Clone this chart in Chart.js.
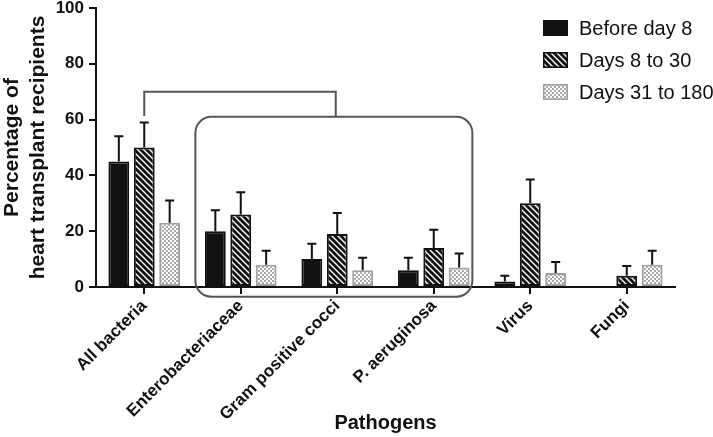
<!DOCTYPE html>
<html><head><meta charset="utf-8">
<script src="https://cdn.jsdelivr.net/npm/chart.js@4/dist/chart.umd.min.js"></script>
<style>html,body{margin:0;padding:0;background:#fff}#wrap{width:713px;height:437px}</style>
</head><body><div id="wrap"><canvas id="c" width="713" height="437"></canvas></div>
<script>
const categories = ['All bacteria','Enterobacteriaceae','Gram positive cocci','P. aeruginosa','Virus','Fungi'];
const seriesLabels = ['Before day 8','Days 8 to 30','Days 31 to 180'];
const beforeDay8 = [45, 20, 10, 6, 2, 0];
const days8to30 = [50, 26, 19, 14, 30, 4];
const days31to180 = [23, 8, 6, 7, 5, 8];
const errBeforeDay8 = [9, 7.5, 5.5, 4.5, 2, 0];
const errDays8to30 = [9, 8, 7.5, 6.5, 8.5, 3.5];
const errDays31to180 = [8, 5, 4.5, 5, 4, 5];
const yTicks = [0, 20, 40, 60, 80, 100];
const xTitle = 'Pathogens';
const yTitle = ['Percentage of', 'heart transplant recipients'];

const FONT = "'Liberation Sans', Arial, Helvetica, sans-serif";

function hatchPattern() {
  const s = 6, c = document.createElement('canvas');
  c.width = c.height = s;
  const g = c.getContext('2d');
  g.fillStyle = '#111'; g.fillRect(0, 0, s, s);
  g.strokeStyle = '#fff'; g.lineWidth = 1.4;
  g.beginPath();
  for (let k = -1; k <= 1; k++) { g.moveTo(k * s - 1, -1); g.lineTo(k * s + s + 1, s + 1); }
  g.stroke();
  return g.createPattern(c, 'repeat');
}
function checkerPattern() {
  const c = document.createElement('canvas');
  c.width = c.height = 4;
  const g = c.getContext('2d');
  g.fillStyle = '#fff'; g.fillRect(0, 0, 4, 4);
  g.fillStyle = '#a9a9a9'; g.fillRect(0, 0, 2, 2); g.fillRect(2, 2, 2, 2);
  return g.createPattern(c, 'repeat');
}

const errors = [errBeforeDay8, errDays8to30, errDays31to180];

const errorBarPlugin = {
  id: 'errorBars',
  afterDatasetsDraw(chart) {
    const ctx = chart.ctx, y = chart.scales.y;
    ctx.save();
    ctx.strokeStyle = '#111'; ctx.lineWidth = 2;
    chart.data.datasets.forEach((ds, i) => {
      const meta = chart.getDatasetMeta(i);
      meta.data.forEach((el, j) => {
        const v = ds.data[j], e = errors[i][j];
        if (!e) return;
        const y0 = y.getPixelForValue(v), y1 = y.getPixelForValue(v + e);
        ctx.beginPath();
        ctx.moveTo(el.x, y0); ctx.lineTo(el.x, y1);
        ctx.moveTo(el.x - 4.5, y1); ctx.lineTo(el.x + 4.5, y1);
        ctx.stroke();
      });
    });
    ctx.restore();
  }
};

const annotationPlugin = {
  id: 'bracket',
  afterDraw(chart) {
    const ctx = chart.ctx, x = chart.scales.x, y = chart.scales.y;
    ctx.save();
    ctx.strokeStyle = '#555'; ctx.lineWidth = 2;
    const bx0 = x.getPixelForValue(0), bx1 = x.getPixelForValue(2) - 1.5;
    const by = y.getPixelForValue(70), bLow = y.getPixelForValue(61.3);
    const rTop = y.getPixelForValue(61), rBot = y.getPixelForValue(-3.5);
    const rL = x.getPixelForValue(0.53), rR = x.getPixelForValue(3.4);
    ctx.beginPath();
    ctx.moveTo(bx0, bLow); ctx.lineTo(bx0, by); ctx.lineTo(bx1, by); ctx.lineTo(bx1, rTop);
    ctx.stroke();
    const r = 16;
    ctx.beginPath();
    ctx.moveTo(rL + r, rTop);
    ctx.lineTo(rR - r, rTop); ctx.arcTo(rR, rTop, rR, rTop + r, r);
    ctx.lineTo(rR, rBot - r); ctx.arcTo(rR, rBot, rR - r, rBot, r);
    ctx.lineTo(rL + r, rBot); ctx.arcTo(rL, rBot, rL, rBot - r, r);
    ctx.lineTo(rL, rTop + r); ctx.arcTo(rL, rTop, rL + r, rTop, r);
    ctx.closePath();
    ctx.stroke();
    chart.data.datasets.forEach((ds, i) => {
      const yc = 28 + 32 * i;
      ctx.fillStyle = ds.backgroundColor;
      ctx.fillRect(543, yc - 8, 25, 16);
      ctx.strokeStyle = ds.borderColor; ctx.lineWidth = 1.5;
      ctx.strokeRect(543.75, yc - 7.25, 23.5, 14.5);
      ctx.fillStyle = '#111';
      ctx.font = '20px ' + FONT;
      ctx.textBaseline = 'middle'; ctx.textAlign = 'left';
      ctx.fillText(ds.label, 579, yc + 1);
    });
    ctx.restore();
  }
};

new Chart(document.getElementById('c'), {
  type: 'bar',
  data: {
    labels: categories,
    datasets: [
      { label: seriesLabels[0], data: beforeDay8, backgroundColor: '#111', borderColor: '#111' },
      { label: seriesLabels[1], data: days8to30, backgroundColor: hatchPattern(), borderColor: '#111' },
      { label: seriesLabels[2], data: days31to180, backgroundColor: checkerPattern(), borderColor: '#a0a0a0' }
    ].map(d => Object.assign(d, { borderWidth: 2, borderSkipped: false, categoryPercentage: 0.79, barPercentage: 0.82 }))
  },
  options: {
    responsive: false, animation: false, devicePixelRatio: 1,
    layout: { padding: { left: 0, right: 38, top: 8, bottom: 0 } },
    plugins: { legend: { display: false }, tooltip: { enabled: false } },
    scales: {
      x: {
        offset: true,
        grid: { offset: false, drawOnChartArea: false, drawTicks: true, tickLength: 7, color: '#111', lineWidth: 2 },
        border: { display: true, color: '#111', width: 2 },
        ticks: { color: '#111', autoSkip: false, maxRotation: 45, minRotation: 45, padding: 2,
                 font: { family: FONT, size: 17, weight: 'bold' } },
        title: { display: true, text: xTitle, color: '#111', padding: { top: 0, bottom: 2 },
                 font: { family: FONT, size: 20, weight: 'bold' } },
        afterFit: s => { s.height = 150; }
      },
      y: {
        min: 0, max: 100,
        afterBuildTicks: s => { s.ticks = yTicks.map(v => ({ value: v })); },
        grid: { drawOnChartArea: false, drawTicks: true, tickLength: 7, color: '#111', lineWidth: 2 },
        border: { display: true, color: '#111', width: 2 },
        ticks: { color: '#111', padding: 5, font: { family: FONT, size: 17, weight: 'bold' } },
        title: { display: true, text: yTitle, color: '#111', padding: { top: 0, bottom: 0 },
                 font: { family: FONT, size: 21, weight: 'bold', lineHeight: 1.2 } },
        afterFit: s => { s.width = 96; s.paddingTop = 0; s.paddingBottom = 0; }
      }
    }
  },
  plugins: [errorBarPlugin, annotationPlugin]
});
</script></body></html>
